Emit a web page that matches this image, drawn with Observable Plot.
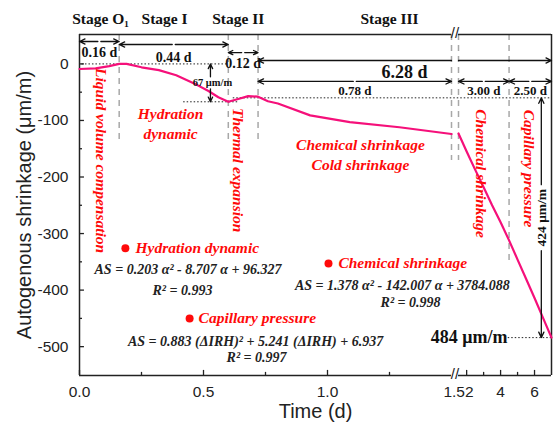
<!DOCTYPE html>
<html>
<head>
<meta charset="utf-8">
<script src="https://cdn.jsdelivr.net/npm/d3@7"></script>
<script src="https://cdn.jsdelivr.net/npm/@observablehq/plot@0.6"></script>
<style>
  body { margin: 0; background: #fff; }
</style>
</head>
<body>
<div id="chart"></div>
<script>
// Autogenous shrinkage of the paste, early age (0–1.5 d) and later age (1.52–7 d)
const earlyTime = [0, 0.065, 0.12, 0.16, 0.19, 0.25, 0.32, 0.39, 0.46, 0.52, 0.56, 0.60, 0.64, 0.68, 0.72, 0.76, 0.80, 0.93, 1.09, 1.29, 1.50];
const earlyShrinkage = [-9, -8, -4, 0, 0, -6, -11, -20, -34, -48, -59, -67, -62, -57, -58, -66, -70, -91, -103, -112, -124];
const lateTime = [1.52, 2.0, 2.5, 3.0, 3.5, 4.0, 4.5, 5.0, 5.5, 6.0, 6.5, 7.0];
const lateShrinkage = [-123, -155, -187, -218, -250, -280, -312, -346, -380, -414, -449, -484];

// phase boundaries (d)
const earlyBounds = [0, 0.16, 0.60, 0.72, 1.5];
const lateBounds = [1.52, 4.5, 7.0];

const stageNames = ["Stage O₁", "Stage I", "Stage II", "Stage III"];
const stageLabelTime = [0.085, 0.343, 0.64, 1.25];
const phaseNames = ["Liquid volume compensation", "Thermal expansion", "Chemical shrinkage", "Capillary pressure"];

const fitNames = ["Hydration dynamic", "Capillary pressure", "Chemical shrinkage"];
const fitEquations = [
  "AS = 0.203 α² - 8.707 α + 96.327",
  "AS = 0.883 (ΔIRH)² + 5.241 (ΔIRH) + 6.937",
  "AS = 1.378 α² - 142.007 α + 3784.088"
];
const fitR2 = ["R² = 0.993", "R² = 0.997", "R² = 0.998"];

const dipDepth = 67;          // µm/m, Stage I dip
const plateauLevel = -60;     // µm/m, start of Stage III
const finalShrinkage = -484;  // µm/m at 7 d

const yTicks = [0, -100, -200, -300, -400, -500];
const yMinorTicks = [-50, -150, -250, -350, -450];
const xTicks = [0, 0.5, 1.0, 1.52, 4, 6];
const xTickLabels = ["0.0", "0.5", "1.0", "1.52", "4", "6"];
const xMajorMarks = [0, 0.5, 1.0, 2, 4, 6];
const xMinorTicks = [0.25, 0.75, 1.25, 3, 5];

// ---- layout ----
const yTop = 52, yBottom = -551;
const serif = "'Liberation Serif', 'Times New Roman', serif";
const sans = "'Liberation Sans', Arial, sans-serif";
const red = "#ff0a0a";
const pink = "#f5107a";
const fmt = d => d.toFixed(2) + " d";

const early = earlyTime.map((t, i) => ({t, v: earlyShrinkage[i]}));
const late = lateTime.map((t, i) => ({t, v: lateShrinkage[i]}));

// double-headed dimension arrow drawn as two arrows from the middle outward
function dimension(from, to, yLine, yText, size, span = to - from) {
  const mid = (from + to) / 2;
  const arrowStyle = {stroke: "#111", strokeWidth: 1.3, headLength: 7, headAngle: 50, insetStart: 1.5};
  return [
    Plot.arrow([{a: mid, b: from}, {a: mid, b: to}], {x1: "a", x2: "b", y1: () => yLine, y2: () => yLine, ...arrowStyle}),
    Plot.text([fmt(span)], {x: mid, y: yText, text: d => d, fontFamily: serif, fontWeight: "bold", fontSize: size, fill: "#111"})
  ];
}

const redText = {fill: red, fontFamily: serif, fontWeight: "bold", fontStyle: "italic", fontSize: 15.5};
const eqText = {fill: "#222", fontFamily: serif, fontWeight: "bold", fontStyle: "italic", fontSize: 14};

const dashes = [
  {t: earlyBounds[1], end: -141}, {t: earlyBounds[2], end: -141}, {t: earlyBounds[3], end: -141},
  {t: earlyBounds[4], end: -171}, {t: lateBounds[0], end: -171}, {t: lateBounds[1], end: -351}
];

const chart = Plot.plot({
  width: 557,
  height: 423,
  marginLeft: 79,
  marginRight: 6,
  marginTop: 34,
  marginBottom: 48,
  style: {fontFamily: sans, background: "#fff", overflow: "visible"},
  x: {type: "linear", domain: [0, 1.5, 1.52, 7.0], range: [79, 451, 458, 551], axis: null},
  y: {domain: [yBottom, yTop], axis: null},
  marks: [
    // phase boundaries
    Plot.ruleX(dashes, {x: "t", y1: yTop, y2: "end", stroke: "#a8a8a8", strokeWidth: 1.5, strokeDasharray: "6,5"}),

    // reference levels
    Plot.ruleY([0], {x1: earlyBounds[0] + 0.01, x2: earlyBounds[2], stroke: "#222", strokeDasharray: "1.5,2"}),
    Plot.ruleY([-dipDepth], {x1: 0.42, x2: 0.64, stroke: "#222", strokeDasharray: "1.5,2"}),
    Plot.ruleY([plateauLevel], {x1: 0.62, x2: lateBounds[2], stroke: "#222", strokeDasharray: "1.5,2"}),
    Plot.ruleY([finalShrinkage], {x1: 4.45, x2: lateBounds[2], stroke: "#222", strokeDasharray: "1.5,2"}),

    // frame with axis break
    Plot.ruleY([yTop, yBottom], {x1: 0, x2: 1.5, stroke: "#222", strokeWidth: 1.5}),
    Plot.ruleY([yTop, yBottom], {x1: 1.52, x2: 7.0, stroke: "#222", strokeWidth: 1.5}),
    Plot.ruleX([0, 7.0], {y1: yBottom, y2: yTop, stroke: "#222", strokeWidth: 1.5}),
    Plot.text(["//", "//"], {x: 1.51, y: [yTop, yBottom], text: d => d, fontSize: 15, fontFamily: sans, fill: "#222", dy: -1.5}),

    // ticks (inward)
    Plot.ruleX(xMajorMarks, {y1: yBottom, y2: yBottom + 9, stroke: "#222", strokeWidth: 1.3}),
    Plot.ruleX(xMinorTicks, {y1: yBottom, y2: yBottom + 5.5, stroke: "#222", strokeWidth: 1.3}),
    Plot.ruleY(yTicks, {x1: 0, x2: 0.02, stroke: "#222", strokeWidth: 1.3}),
    Plot.ruleY(yMinorTicks, {x1: 0, x2: 0.012, stroke: "#222", strokeWidth: 1.3}),
    Plot.text(xTicks, {x: d => d, y: yBottom, text: (d, i) => xTickLabels[i], dy: 17, fontSize: 15.5, fontFamily: sans, fill: "#222"}),
    Plot.text(yTicks, {x: 0, y: d => d, text: d => String(d), dx: -11, textAnchor: "end", fontSize: 15.5, fontFamily: sans, fill: "#222"}),

    // axis titles
    Plot.text(["Time (d)"], {frameAnchor: "bottom", textAnchor: "middle", lineAnchor: "middle", dy: 36, fontSize: 20, fontFamily: sans, fill: "#222"}),
    Plot.text(["Autogenous shrinkage (μm/m)"], {frameAnchor: "left", textAnchor: "middle", lineAnchor: "middle", rotate: -90, dx: -55, fontSize: 20, fontFamily: sans, fill: "#222"}),

    // stage headers
    Plot.text(stageNames, {x: (d, i) => stageLabelTime[i], frameAnchor: "top", lineAnchor: "middle", dy: -15, fontFamily: serif, fontWeight: "bold", fontSize: 15.5, fill: "#111"}),

    // shrinkage curve
    Plot.line(early, {x: "t", y: "v", stroke: pink, strokeWidth: 2.2}),
    Plot.line(late, {x: "t", y: "v", stroke: pink, strokeWidth: 2.2}),

    // durations
    ...dimension(earlyBounds[0], earlyBounds[1], 39.6, 20, 14),
    ...dimension(earlyBounds[1], earlyBounds[2], 34.3, 11, 14),
    ...dimension(earlyBounds[2], earlyBounds[3], 20, 0, 14),
    ...dimension(earlyBounds[3], earlyBounds[4], -31, -47, 13),
    ...dimension(lateBounds[0], lateBounds[1], -31, -47, 13, lateBounds[1] - earlyBounds[4]),
    ...dimension(lateBounds[1], lateBounds[2], -31, -47, 13),
    // Stage III total span, split at the axis break
    Plot.arrow([{a: earlyBounds[4], b: earlyBounds[3]}, {a: lateBounds[0], b: lateBounds[2]}],
      {x1: "a", x2: "b", y1: () => 6, y2: () => 6, stroke: "#111", strokeWidth: 1.3, headLength: 7, headAngle: 50}),
    Plot.text([fmt(lateBounds[2] - earlyBounds[3])], {x: 1.31, y: -15, fontFamily: serif, fontWeight: "bold", fontSize: 18, fill: "#111"}),

    // Stage I dip
    Plot.arrow([{b: 0}, {b: -dipDepth}], {x1: 0.528, x2: 0.528, y1: () => -dipDepth / 2, y2: "b", insetStart: 6, stroke: "#111", strokeWidth: 1.3, headLength: 6, headAngle: 50}),
    Plot.text([`${dipDepth} μm/m`], {x: 0.536, y: -dipDepth / 2, fontFamily: serif, fontWeight: "bold", fontSize: 10.5, fill: "#111"}),

    // Stage III drop
    Plot.arrow([{b: plateauLevel}, {b: finalShrinkage}], {x1: 6.4, x2: 6.4, y1: () => (plateauLevel + finalShrinkage) / 2, y2: "b", insetStart: 33, stroke: "#111", strokeWidth: 1.3, headLength: 7, headAngle: 50}),
    Plot.text([`${plateauLevel - finalShrinkage} μm/m`], {x: 6.4, y: (plateauLevel + finalShrinkage) / 2, rotate: -90, fontFamily: serif, fontWeight: "bold", fontSize: 13.5, fill: "#111"}),
    Plot.text([`${-finalShrinkage} μm/m`], {x: 4.41, y: finalShrinkage, textAnchor: "end", fontFamily: serif, fontWeight: "bold", fontSize: 18, fill: "#111"}),

    // mechanism labels
    Plot.text(phaseNames, {
      x: [0.085, 0.637, 2.82, 5.65], y: [-171, -188, -194, -185],
      text: d => d, rotate: 90, ...redText
    }),
    Plot.text(["Hydration\ndynamic"], {x: 0.367, y: -104, lineHeight: 1.3, ...redText}),
    Plot.text(["Chemical shrinkage\nCold shrinkage"], {x: 1.133, y: -158, lineHeight: 1.3, ...redText}),

    // fitted relations
    Plot.dot(fitNames, {x: [0.185, 0.444, 1.004], y: [-326, -450, -353], r: 4, fill: red, stroke: null}),
    Plot.text(fitNames, {x: [0.226, 0.48, 1.044], y: [-326, -450, -353], text: d => d, textAnchor: "start", ...redText}),
    Plot.text(fitEquations, {x: [0.4375, 0.71, 1.302], y: [-364, -491, -392], text: d => d, ...eqText}),
    Plot.text(fitR2, {x: [0.415, 0.714, 1.335], y: [-401, -519, -422], text: d => d, ...eqText})
  ]
});

document.getElementById("chart").appendChild(chart);
</script>
</body>
</html>
